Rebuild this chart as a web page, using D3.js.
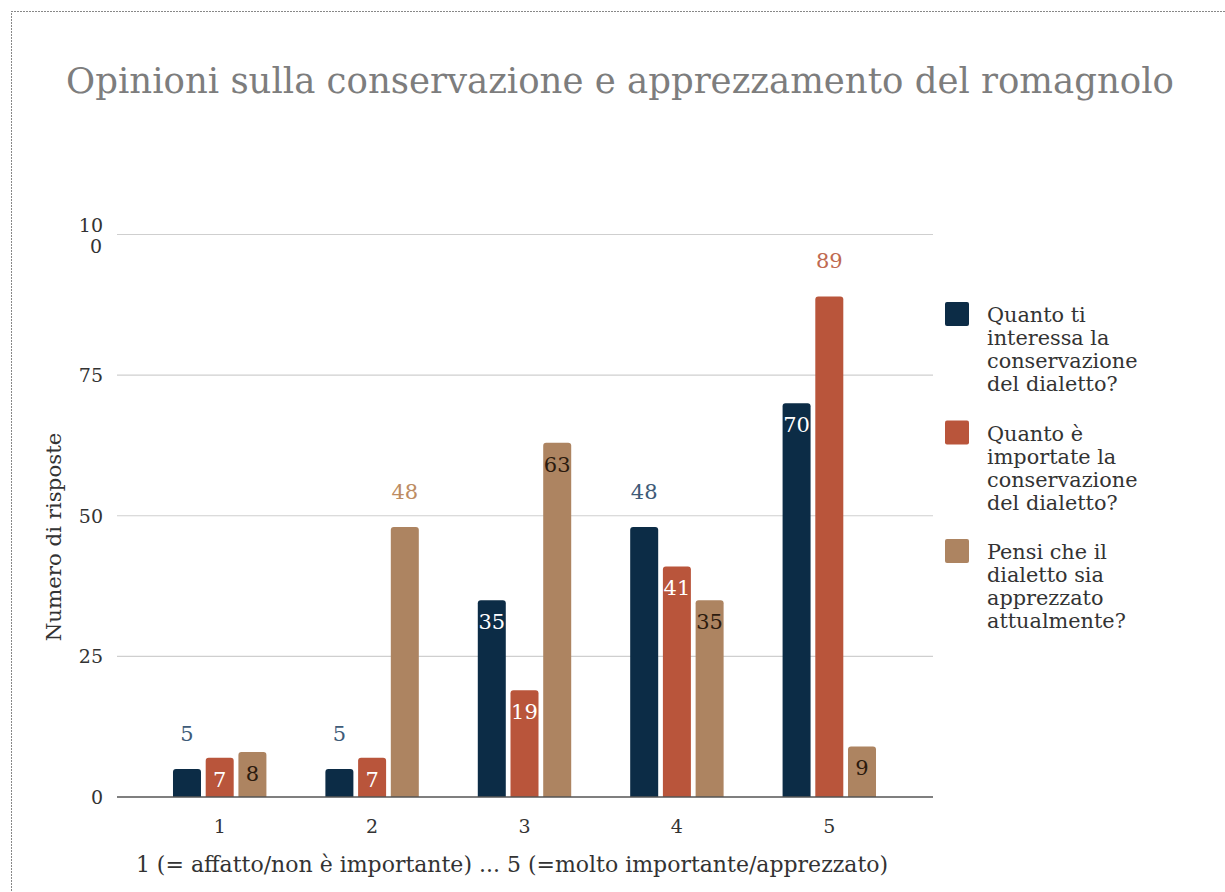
<!DOCTYPE html>
<html>
<head>
<meta charset="utf-8">
<script src="https://cdn.jsdelivr.net/npm/d3@7"></script>
<style>
  body { margin: 0; background: #fff; }
  svg { display: block; font-family: "DejaVu Serif", "Liberation Serif", serif; }
</style>
</head>
<body>
<script>
var width = 1225, height = 892;

/** data **/
var categories = ["1", "2", "3", "4", "5"];
var seriesNames = [
    "Quanto ti interessa la conservazione del dialetto?",
    "Quanto è importate la conservazione del dialetto?",
    "Pensi che il dialetto sia apprezzato attualmente?"
];
var interesse = [5, 5, 35, 48, 70];
var importanza = [7, 7, 19, 41, 89];
var apprezzato = [8, 48, 63, 35, 9];
var yTicks = [0, 25, 50, 75, 100];
var legendLines = [
    ["Quanto ti", "interessa la", "conservazione", "del dialetto?"],
    ["Quanto è", "importate la", "conservazione", "del dialetto?"],
    ["Pensi che il", "dialetto sia", "apprezzato", "attualmente?"]
];

var values = [interesse, importanza, apprezzato];
var colors = ["#0c2c46", "#b9553b", "#ad8461"];
var outsideColors = ["#3e5b78", "#c06a50", "#bd8c62"];
var insideColors = ["#ffffff", "#ffffff", "#2b1a0e"];
// labels that sit above the bar instead of inside (group-series)
var outside = new Set(["0-0", "1-0", "1-2", "3-0", "4-1"]);

var svg = d3.select("body").append("svg")
    .attr("width", width).attr("height", height);

// dotted frame
svg.append("rect")
    .attr("x", 11.5).attr("y", 11.5)
    .attr("width", 1400).attr("height", 1000)
    .attr("fill", "none").attr("stroke", "#111")
    .attr("stroke-width", 1).attr("stroke-dasharray", "1,2");

// title
svg.append("text")
    .attr("x", 620).attr("y", 93)
    .attr("text-anchor", "middle")
    .attr("font-size", 35.5)
    .attr("fill", "#7d7d7d")
    .text("Opinioni sulla conservazione e apprezzamento del romagnolo");

/** scales **/
var y = d3.scaleLinear().domain([0, 100]).range([797, 234.5]);
var x0 = d3.scaleBand().domain(categories).range([143.5, 905.5])
    .paddingInner(0.387).paddingOuter(0.1935);
var x1 = d3.scaleBand().domain(d3.range(seriesNames.length)).range([0, x0.bandwidth()])
    .paddingInner(0.144).paddingOuter(0);

var gridLeft = 117, gridRight = 933;

// gridlines
svg.append("g").selectAll("line")
    .data(yTicks.filter(d => d > 0))
    .enter().append("line")
    .attr("x1", gridLeft).attr("x2", gridRight)
    .attr("y1", d => y(d)).attr("y2", d => y(d))
    .attr("stroke", "#cfcfcf").attr("stroke-width", 1.2);

// y tick labels
var yt = svg.append("g").attr("font-size", 19).attr("fill", "#333").attr("text-anchor", "end");
yTicks.forEach(function (t) {
    var txt = yt.append("text").attr("x", 103);
    if (t === 100) {
        // wrapped like in the original
        txt.attr("y", y(t) - 3);
        txt.append("tspan").attr("x", 103).text("10");
        txt.append("tspan").attr("x", 102).attr("dy", 21).text("0");
    } else {
        txt.attr("y", y(t) + 7).text(t);
    }
});

// bars
var groups = svg.append("g").selectAll("g")
    .data(categories)
    .enter().append("g")
    .attr("transform", d => "translate(" + x0(d) + ",0)");

function barPath(xx, yy, w, h, r) {
    r = Math.min(r, h);
    return "M" + xx + "," + (yy + h) +
        "V" + (yy + r) +
        "Q" + xx + "," + yy + " " + (xx + r) + "," + yy +
        "H" + (xx + w - r) +
        "Q" + (xx + w) + "," + yy + " " + (xx + w) + "," + (yy + r) +
        "V" + (yy + h) + "Z";
}

groups.each(function (cat, gi) {
    var g = d3.select(this);
    values.forEach(function (arr, si) {
        var v = arr[gi];
        var bx = x1(si), bw = x1.bandwidth();
        g.append("path")
            .attr("d", barPath(bx, y(v), bw, y(0) - y(v), 3))
            .attr("fill", colors[si]);
        var isOut = outside.has(gi + "-" + si);
        g.append("text")
            .attr("x", bx + bw / 2)
            .attr("y", isOut ? y(v) - 28 : y(v) + 29)
            .attr("text-anchor", "middle")
            .attr("font-size", 21)
            .attr("fill", isOut ? outsideColors[si] : insideColors[si])
            .text(v);
    });
});

// baseline
svg.append("line")
    .attr("x1", gridLeft).attr("x2", gridRight)
    .attr("y1", y(0)).attr("y2", y(0))
    .attr("stroke", "#555").attr("stroke-width", 1.5);

// x tick labels
svg.append("g").selectAll("text")
    .data(categories)
    .enter().append("text")
    .attr("x", d => x0(d) + x0.bandwidth() / 2)
    .attr("y", 833)
    .attr("text-anchor", "middle")
    .attr("font-size", 19)
    .attr("fill", "#333")
    .text(d => d);

// axis titles
svg.append("text")
    .attr("x", 512).attr("y", 872)
    .attr("text-anchor", "middle")
    .attr("font-size", 22)
    .attr("fill", "#333")
    .text("1 (= affatto/non è importante) ... 5 (=molto importante/apprezzato)");

svg.append("text")
    .attr("transform", "translate(61,537) rotate(-90)")
    .attr("text-anchor", "middle")
    .attr("font-size", 21.3)
    .attr("fill", "#333")
    .text("Numero di risposte");

// legend
var legend = svg.append("g").selectAll("g")
    .data(seriesNames)
    .enter().append("g")
    .attr("transform", (d, i) => "translate(945," + (302 + i * 118.5) + ")");

legend.append("rect")
    .attr("width", 24).attr("height", 24).attr("rx", 2)
    .attr("fill", (d, i) => colors[i]);

legend.append("text")
    .attr("font-size", 20.8)
    .attr("fill", "#333")
    .each(function (d, i) {
        var t = d3.select(this);
        legendLines[i].forEach(function (line, li) {
            t.append("tspan").attr("x", 42).attr("y", 20 + li * 23).text(line);
        });
    });
</script>
</body>
</html>
